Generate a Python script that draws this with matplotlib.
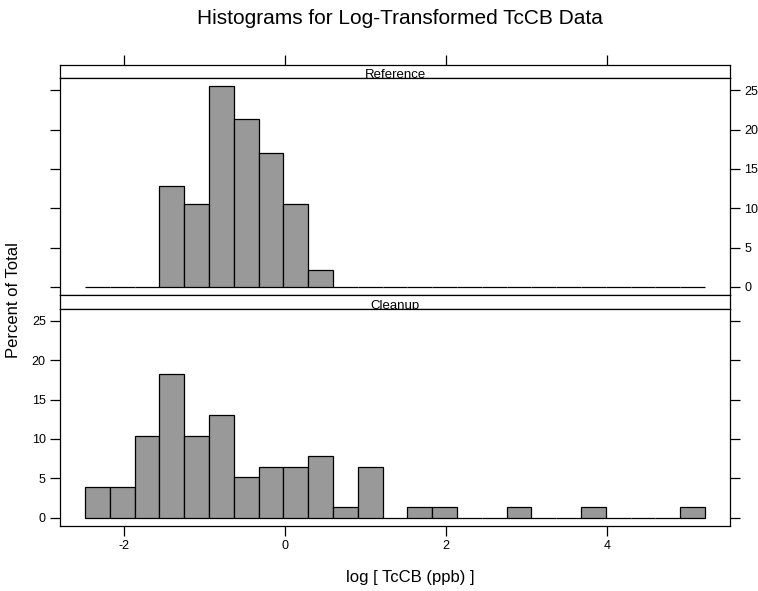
import numpy as np
import matplotlib
matplotlib.use("Agg")
import matplotlib.pyplot as plt

plt.rcParams["font.family"] = ["Liberation Sans", "DejaVu Sans"]

# bins shared by both panels (log ppb)
bin_lo, bin_hi, n_bins = -2.484, 5.217, 25

# percent of total per bin
reference_pct = [0, 0, 0, 12.8, 10.6, 25.5, 21.3, 17.0, 10.6, 2.1,
                 0, 0, 0, 0, 0, 0, 0, 0, 0, 0, 0, 0, 0, 0, 0]
cleanup_pct = [3.9, 3.9, 10.4, 18.2, 10.4, 13.0, 5.2, 6.5, 6.5, 7.8,
               1.3, 6.5, 0, 1.3, 1.3, 0, 0, 1.3, 0, 0, 1.3, 0, 0, 0, 1.3]

panels = ["Reference", "Cleanup"]
x_ticks = [-2, 0, 2, 4]
y_ticks = [0, 5, 10, 15, 20, 25]

W, H = 758, 591
fig = plt.figure(figsize=(W / 100, H / 100), dpi=100)


def px_box(x0, y0, x1, y1):
    return [x0 / W, 1 - y1 / H, (x1 - x0) / W, (y1 - y0) / H]


edges = np.linspace(bin_lo, bin_hi, n_bins + 1)
width = edges[1] - edges[0]
span = bin_hi - bin_lo
xlim = (bin_lo - 0.04 * span, bin_hi + 0.04 * span)
ymax = max(max(reference_pct), max(cleanup_pct))
ylim = (-0.04 * ymax, 1.04 * ymax)

left, right = 60.3, 729.7
layout = {
    "Reference": dict(strip=(65, 78.3), panel=(78.3, 295)),
    "Cleanup": dict(strip=(295, 309), panel=(309, 525.7)),
}
data = {"Reference": reference_pct, "Cleanup": cleanup_pct}
lw = 0.9
tick_kw = dict(direction="out", length=7, width=lw, labelsize=9, pad=3.5)

for i, name in enumerate(panels):
    s0, s1 = layout[name]["strip"]
    p0, p1 = layout[name]["panel"]

    # strip
    sax = fig.add_axes(px_box(left, s0, right, s1))
    sax.set_xlim(xlim)
    sax.set_ylim(0, 1)
    sax.set_yticks([])
    for sp in sax.spines.values():
        sp.set_linewidth(lw)
    if i == 0:
        sax.xaxis.tick_top()
        sax.set_xticks(x_ticks)
        sax.tick_params(axis="x", labeltop=False, **tick_kw)
    else:
        sax.set_xticks([])
    sax.text(0.5, 0.02, name, transform=sax.transAxes, ha="center",
             va="baseline", fontsize=9.5)

    # panel
    ax = fig.add_axes(px_box(left, p0, right, p1))
    ax.bar(edges[:-1], data[name], width=width, align="edge",
           color="#999999", edgecolor="black", linewidth=lw)
    ax.set_xlim(xlim)
    ax.set_ylim(ylim)
    ax.set_yticks(y_ticks)
    for sp in ax.spines.values():
        sp.set_linewidth(lw)
    if i == 0:
        ax.set_xticks([])
        ax.tick_params(axis="y", left=True, right=True, labelleft=False,
                       labelright=True, **tick_kw)
    else:
        ax.set_xticks(x_ticks)
        ax.tick_params(axis="x", **tick_kw)
        ax.tick_params(axis="y", left=True, right=True, labelleft=True,
                       labelright=False, **tick_kw)
        ax.set_xticklabels([str(t) for t in x_ticks])

fig.text(400 / W, 1 - 24.5 / H, "Histograms for Log-Transformed TcCB Data",
         ha="center", va="baseline", fontsize=15)
fig.text(410 / W, 1 - 582 / H, "log [ TcCB (ppb) ]",
         ha="center", va="baseline", fontsize=12)
fig.text(14 / W, 1 - 300 / H, "Percent of Total", rotation=90,
         ha="center", va="center", fontsize=12)

fig.savefig("out.png", dpi=100)
plt.close(fig)
